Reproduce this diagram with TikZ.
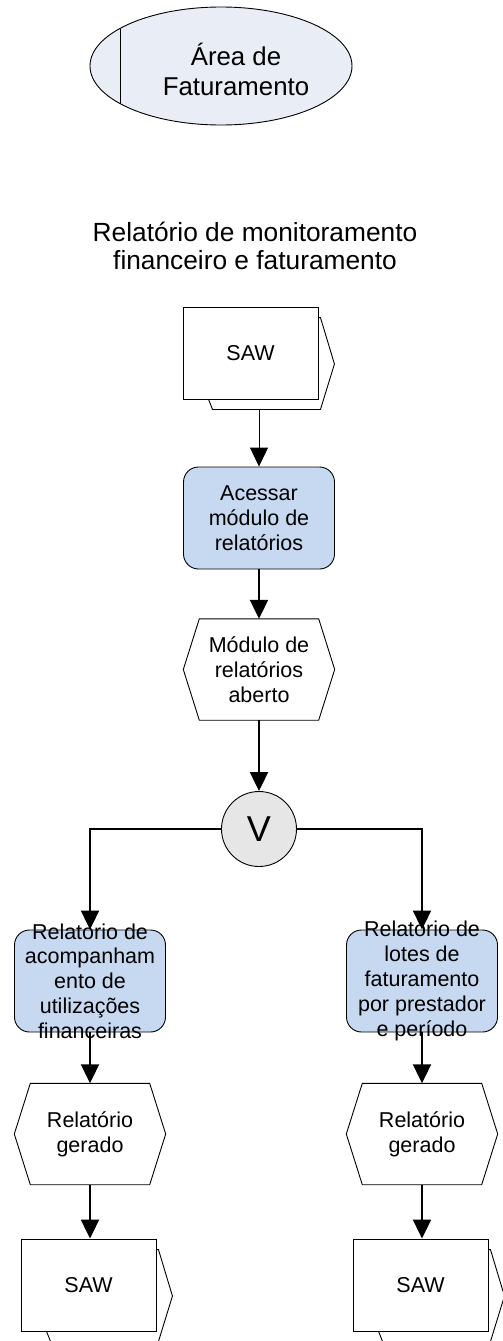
\documentclass[tikz,border=0pt]{standalone}
\usepackage{fontspec}
\setmainfont{Liberation Sans}
\usetikzlibrary{arrows.meta,shapes.geometric,calc}
\definecolor{ellfill}{RGB}{232,237,246}
\definecolor{boxfill}{RGB}{198,217,240}
\definecolor{circfill}{RGB}{230,230,230}
\newcommand{\bodyfont}{\fontsize{21.5}{24.8}\selectfont}
\newcommand{\hexpath}[1]{\draw[shapeline] ([xshift=16pt]#1.north west) -- ([xshift=-16pt]#1.north east) -- (#1.east) -- ([xshift=-16pt]#1.south east) -- ([xshift=16pt]#1.south west) -- (#1.west) -- cycle;}
\newcommand{\sawback}[1]{\draw[shapeline] ($(#1.north east)+(0,11)$) -- ($(#1.north east)+(2,11)$) -- ($(#1.east)+(16,11)$) -- ($(#1.south east)+(2,10)$) -- ($(#1.south west)+(30,10)$) -- ($(#1.south west)+(26,0)$);}
\begin{document}
\begin{tikzpicture}[x=1pt,y=-1pt,
  shapeline/.style={line width=0.9pt,draw=black,line join=miter},
  sawbox/.style={shapeline,draw,fill=white,minimum width=135pt,minimum height=92pt,inner sep=0pt,font=\bodyfont},
  procbox/.style={shapeline,draw,fill=boxfill,rounded corners=15pt,minimum width=151pt,minimum height=102pt,inner sep=0pt},
  hexbox/.style={draw=none,minimum width=151pt,minimum height=101pt,inner sep=0pt},
  txt/.style={font=\bodyfont,align=center,inner sep=0pt},
  flow/.style={line width=2pt,-{Triangle[length=19pt,width=18pt]}},
  thinflow/.style={line width=1pt,-{Triangle[length=19pt,width=18pt]}}]
\useasboundingbox (0,0) rectangle (503,1341);
% header ellipse
\node[ellipse,shapeline,draw,fill=ellfill,minimum width=262pt,minimum height=118pt,inner sep=0pt] (ell) at (221,66) {};
\draw[shapeline] (120,28.5) -- (120,103.5);
\node[align=center,inner sep=0pt,font=\fontsize{25.8}{30}\selectfont] (ellt) at (236,69) {Área de\\Faturamento};
% title
\node[align=center,inner sep=0pt,font=\fontsize{26.3}{28.5}\selectfont] (title) at (255,246) {Relatório de monitoramento\\financeiro e faturamento};
% top SAW
\node[sawbox] (saw0) at (250.5,353) {SAW};
\sawback{saw0}
\coordinate (saw0b) at (259,409);
% Acessar
\node[procbox] (acc) at (259,518) {};
\node[txt] (acct) at (acc) {Acessar\\módulo de\\relatórios};
% hexagon 1
\node[hexbox] (hx0) at (259,669.5) {};
\hexpath{hx0}
\node[txt] (hx0t) at (hx0) {Módulo de\\relatórios\\aberto};
% V
\node[circle,shapeline,draw,fill=circfill,minimum size=75pt,inner sep=0pt,font=\fontsize{36}{40}\selectfont] (v) at (259,829) {V};
% left branch
\node[procbox] (b1) at (90,981) {};
\node[txt] (b1t) at (b1) {Relatorio de\\acompanham\\ento de\\utilizações\\financeiras};
\node[hexbox] (h1) at (90,1134) {};
\hexpath{h1}
\node[txt] (h1t) at (h1) {Relatório\\gerado};
\node[sawbox] (s1) at (88.5,1285) {SAW};
\sawback{s1}
% right branch
\node[procbox] (b2) at (422,981) {};
\node[txt] (b2t) at (b2) {Relatorio de\\lotes de\\faturamento\\por prestador\\e período};
\node[hexbox] (h2) at (422,1134) {};
\hexpath{h2}
\node[txt] (h2t) at (h2) {Relatório\\gerado};
\node[sawbox] (s2) at (420.5,1285) {SAW};
\sawback{s2}
% connectors
\draw[thinflow] (saw0b) -- (acc.north);
\draw[flow] (acc.south) -- (hx0.north);
\draw[flow] (hx0.south) -- (v.north);
\draw[flow] (v.west) -| (b1.north);
\draw[flow] (v.east) -| (b2.north);
\draw[flow] (b1.south) -- (h1.north);
\draw[flow] (h1.south) -- (h1.south |- s1.north);
\draw[flow] (b2.south) -- (h2.north);
\draw[flow] (h2.south) -- (h2.south |- s2.north);
\end{tikzpicture}
\end{document}
